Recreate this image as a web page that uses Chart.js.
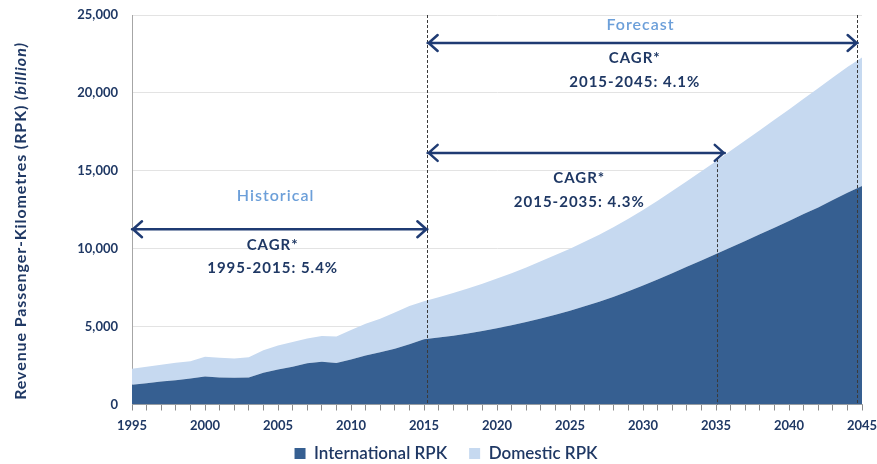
<!DOCTYPE html>
<html>
<head>
<meta charset="utf-8">
<script src="https://cdn.jsdelivr.net/npm/chart.js@4"></script>
<style>
html,body{margin:0;padding:0;background:#fff;}
#wrap{width:877px;height:464px;overflow:hidden;}
</style>
</head>
<body>
<div id="wrap"><canvas id="c" width="877" height="464"></canvas></div>
<script>
// ---- data ----
const years = [1995,1996,1997,1998,1999,2000,2001,2002,2003,2004,2005,2006,2007,2008,2009,2010,
  2011,2012,2013,2014,2015,2016,2017,2018,2019,2020,2021,2022,2023,2024,2025,2026,2027,2028,2029,2030,
  2031,2032,2033,2034,2035,2036,2037,2038,2039,2040,2041,2042,2043,2044,2045];
const internationalRPK = [1270,1370,1480,1560,1670,1800,1740,1720,1740,2040,2250,2420,2640,2750,2660,2890,
  3150,3360,3580,3860,4190,4300,4420,4560,4720,4900,5090,5300,5520,5760,6020,6300,6600,6920,7270,7640,
  8030,8430,8840,9250,9660,10080,10490,10920,11340,11770,12220,12650,13120,13590,14020];
const domesticRPK = [1030,1050,1070,1120,1110,1270,1260,1240,1300,1450,1540,1590,1600,1640,1700,1890,
  2040,2150,2320,2460,2430,2580,2730,2880,3030,3180,3340,3500,3670,3830,3980,4140,4300,4470,4650,4840,
  5050,5270,5490,5720,5950,6200,6460,6690,6930,7160,7400,7650,7870,8080,8250];
const seriesNames = ['International RPK','Domestic RPK'];
const yTicks = [0,5000,10000,15000,20000,25000];
const xLabelYears = [1995,2000,2005,2010,2015,2020,2025,2030,2035,2040,2045];
const yTitleMain = 'Revenue Passenger-Kilometres (RPK) ';
const yTitleItalic = '(billion)';
const periodLabels = ['Historical','Forecast'];
const cagrLabels = ['CAGR*','1995-2015: 5.4%','CAGR*','2015-2035: 4.3%','CAGR*','2015-2045: 4.1%'];

// ---- styles ----
const NAVY = '#1F3864';
const DARK = '#365F91';
const LIGHT = '#C6D9F0';
const FONT = 'Lato, "Open Sans", sans-serif';

// annotation geometry in data units (x: year, y: RPK)
const ann = {
  vlines: [
    {x: 2015.23, y0: 25000, y1: 0},
    {x: 2035.05, y0: 15750, y1: 0},
    {x: 2044.66, y0: 25000, y1: 0}
  ],
  arrows: [
    {x0: 1995, x1: 2015.23, y: 11250},
    {x0: 2015.25, x1: 2035.6, y: 16150},
    {x0: 2015.25, x1: 2044.7, y: 23200}
  ],
  texts: [
    {t: periodLabels[0], x: 2004.8, y: 13400, c: '#6C9FD9', size: 16, w: '600'},
    {t: periodLabels[1], x: 2029.8, y: 24340, c: '#6C9FD9', size: 16, w: '600'},
    {t: cagrLabels[0], x: 2004.6, y: 10230, c: NAVY, size: 15, w: 'bold'},
    {t: cagrLabels[1], x: 2004.6, y: 8760, c: NAVY, size: 15, w: 'bold'},
    {t: cagrLabels[2], x: 2025.6, y: 14500, c: NAVY, size: 15, w: 'bold'},
    {t: cagrLabels[3], x: 2025.6, y: 13000, c: NAVY, size: 15, w: 'bold'},
    {t: cagrLabels[4], x: 2029.4, y: 22200, c: NAVY, size: 15, w: 'bold'},
    {t: cagrLabels[5], x: 2029.4, y: 20720, c: NAVY, size: 15, w: 'bold'}
  ]
};

const annotationPlugin = {
  id: 'annots',
  afterLayout(chart) {
    // nudge the legend block to the right, as in the original layout
    if (chart.legend) { chart.legend.left += 30; }
  },
  afterDatasetsDraw(chart) {
    const ctx = chart.ctx, xs = chart.scales.x, ys = chart.scales.y;
    ctx.save();
    // dashed lines
    ctx.strokeStyle = '#3A3A3A';
    ctx.lineWidth = 1;
    ctx.setLineDash([3, 2]);
    ann.vlines.forEach(l => {
      const px = Math.round(xs.getPixelForValue(l.x)) + 0.5;
      ctx.beginPath();
      ctx.moveTo(px, ys.getPixelForValue(l.y0));
      ctx.lineTo(px, ys.getPixelForValue(l.y1));
      ctx.stroke();
    });
    ctx.setLineDash([]);
    // arrows
    ctx.strokeStyle = '#1F3B73';
    ctx.lineWidth = 2.5;
    ctx.lineCap = 'round';
    ctx.lineJoin = 'round';
    ann.arrows.forEach(a => {
      const x0 = xs.getPixelForValue(a.x0), x1 = xs.getPixelForValue(a.x1), y = ys.getPixelForValue(a.y);
      ctx.beginPath();
      ctx.moveTo(x0, y); ctx.lineTo(x1, y);
      ctx.moveTo(x0 + 10, y - 8); ctx.lineTo(x0 + 1, y); ctx.lineTo(x0 + 10, y + 8);
      ctx.moveTo(x1 - 10, y - 8); ctx.lineTo(x1 - 1, y); ctx.lineTo(x1 - 10, y + 8);
      ctx.stroke();
    });
    // texts
    ctx.textAlign = 'center';
    ctx.textBaseline = 'middle';
    ctx.letterSpacing = '1px';
    ann.texts.forEach(t => {
      ctx.fillStyle = t.c;
      ctx.font = t.w + ' ' + t.size + 'px ' + FONT;
      ctx.fillText(t.t, xs.getPixelForValue(t.x) + 0.5, ys.getPixelForValue(t.y));
    });
    ctx.restore();
  },
  afterDraw(chart) {
    // y-axis title with italic part
    const ctx = chart.ctx;
    ctx.save();
    ctx.translate(21, 221);
    ctx.rotate(-Math.PI / 2);
    ctx.textBaseline = 'middle';
    ctx.fillStyle = NAVY;
    ctx.letterSpacing = '0.9px';
    const f1 = 'bold 16px ' + FONT, f2 = 'italic bold 16px ' + FONT;
    ctx.font = f1; const w1 = ctx.measureText(yTitleMain).width;
    ctx.font = f2; const w2 = ctx.measureText(yTitleItalic).width;
    let x = -(w1 + w2) / 2;
    ctx.textAlign = 'left';
    ctx.font = f1; ctx.fillText(yTitleMain, x, 0);
    ctx.font = f2; ctx.fillText(yTitleItalic, x + w1, 0);
    ctx.restore();
  }
};

const toPts = arr => years.map((yr, i) => ({x: yr, y: arr[i]}));

new Chart(document.getElementById('c'), {
  type: 'line',
  data: {
    datasets: [
      {label: seriesNames[0], data: toPts(internationalRPK), fill: 'origin', backgroundColor: DARK,
       borderColor: DARK, borderWidth: 0, pointRadius: 0, tension: 0},
      {label: seriesNames[1], data: toPts(domesticRPK), fill: '-1', backgroundColor: LIGHT,
       borderColor: LIGHT, borderWidth: 0, pointRadius: 0, tension: 0}
    ]
  },
  options: {
    responsive: false,
    animation: false,
    events: [],
    layout: {padding: {left: 0, right: 15, top: 15, bottom: -8}},
    scales: {
      x: {
        type: 'linear', min: years[0], max: years[years.length - 1],
        afterBuildTicks: s => { s.ticks = years.map(v => ({value: v})); },
        afterFit: s => {
          s.height = 18.5; s.paddingLeft = 0; s.paddingRight = 0;
          s._computeLabelArea = () => null; // let labels extend below the reduced axis box
        },
        ticks: {
          autoSkip: false, maxRotation: 0, padding: 8, color: NAVY,
          font: {family: FONT, size: 13, weight: 'bold'},
          callback: v => xLabelYears.includes(v) ? String(v) : ''
        },
        grid: {drawOnChartArea: false, drawTicks: true, tickLength: 6, color: '#8C8C8C'},
        border: {color: '#A6A6A6', width: 1}
      },
      y: {
        stacked: true, min: 0, max: 25000,
        afterBuildTicks: s => { s.ticks = yTicks.map(v => ({value: v})); },
        afterFit: s => { s.width = 132; s.paddingTop = 7; s.paddingBottom = 7; },
        ticks: {
          padding: 14, color: NAVY,
          font: {family: FONT, size: 13, weight: 'bold'},
          callback: v => v.toLocaleString('en-US')
        },
        grid: {drawTicks: false, color: '#E3E3E3'},
        border: {color: '#A6A6A6', width: 1}
      }
    },
    plugins: {
      legend: {
        position: 'bottom',
        labels: {boxWidth: 11, boxHeight: 11, padding: 22, color: NAVY,
                 font: {family: FONT, size: 17, weight: '600'}}
      },
      tooltip: {enabled: false}
    }
  },
  plugins: [annotationPlugin]
});
</script>
</body>
</html>
